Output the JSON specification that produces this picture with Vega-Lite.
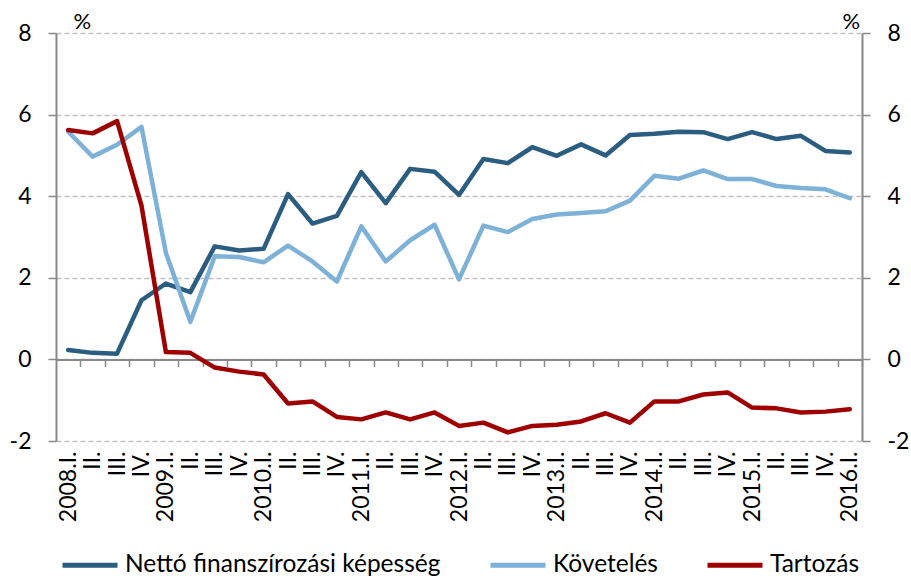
{
  "$schema": "https://vega.github.io/schema/vega-lite/v6.json",
  "width": 806,
  "height": 408,
  "autosize": "none",
  "padding": {"left": 56, "top": 33, "right": 49, "bottom": 137},
  "background": "white",
  "config": {"font": "Lato", "view": {"stroke": null}},
  "data": {"values": [
    {"q": "2008.I.", "s": "Nettó finanszírozási képesség", "v": 0.23},
    {"q": "2008.II.", "s": "Nettó finanszírozási képesség", "v": 0.16},
    {"q": "2008.III.", "s": "Nettó finanszírozási képesség", "v": 0.14},
    {"q": "2008.IV.", "s": "Nettó finanszírozási képesség", "v": 1.45},
    {"q": "2009.I.", "s": "Nettó finanszírozási képesség", "v": 1.86},
    {"q": "2009.II.", "s": "Nettó finanszírozási képesség", "v": 1.65},
    {"q": "2009.III.", "s": "Nettó finanszírozási képesség", "v": 2.77},
    {"q": "2009.IV.", "s": "Nettó finanszírozási képesség", "v": 2.67},
    {"q": "2010.I.", "s": "Nettó finanszírozási képesség", "v": 2.71},
    {"q": "2010.II.", "s": "Nettó finanszírozási képesség", "v": 4.05},
    {"q": "2010.III.", "s": "Nettó finanszírozási képesség", "v": 3.33},
    {"q": "2010.IV.", "s": "Nettó finanszírozási képesség", "v": 3.52},
    {"q": "2011.I.", "s": "Nettó finanszírozási képesség", "v": 4.59},
    {"q": "2011.II.", "s": "Nettó finanszírozási képesség", "v": 3.83},
    {"q": "2011.III.", "s": "Nettó finanszírozási képesség", "v": 4.67},
    {"q": "2011.IV.", "s": "Nettó finanszírozási képesség", "v": 4.60},
    {"q": "2012.I.", "s": "Nettó finanszírozási képesség", "v": 4.03},
    {"q": "2012.II.", "s": "Nettó finanszírozási képesség", "v": 4.91},
    {"q": "2012.III.", "s": "Nettó finanszírozási képesség", "v": 4.81},
    {"q": "2012.IV.", "s": "Nettó finanszírozási képesség", "v": 5.20},
    {"q": "2013.I.", "s": "Nettó finanszírozási képesség", "v": 4.99},
    {"q": "2013.II.", "s": "Nettó finanszírozási képesség", "v": 5.27},
    {"q": "2013.III.", "s": "Nettó finanszírozási képesség", "v": 5.00},
    {"q": "2013.IV.", "s": "Nettó finanszírozási képesség", "v": 5.50},
    {"q": "2014.I.", "s": "Nettó finanszírozási képesség", "v": 5.53},
    {"q": "2014.II.", "s": "Nettó finanszírozási képesség", "v": 5.58},
    {"q": "2014.III.", "s": "Nettó finanszírozási képesség", "v": 5.57},
    {"q": "2014.IV.", "s": "Nettó finanszírozási képesség", "v": 5.40},
    {"q": "2015.I.", "s": "Nettó finanszírozási képesség", "v": 5.57},
    {"q": "2015.II.", "s": "Nettó finanszírozási képesség", "v": 5.40},
    {"q": "2015.III.", "s": "Nettó finanszírozási képesség", "v": 5.48},
    {"q": "2015.IV.", "s": "Nettó finanszírozási képesség", "v": 5.11},
    {"q": "2016.I.", "s": "Nettó finanszírozási képesség", "v": 5.07},
    {"q": "2008.I.", "s": "Követelés", "v": 5.58},
    {"q": "2008.II.", "s": "Követelés", "v": 4.97},
    {"q": "2008.III.", "s": "Követelés", "v": 5.26},
    {"q": "2008.IV.", "s": "Követelés", "v": 5.70},
    {"q": "2009.I.", "s": "Követelés", "v": 2.61},
    {"q": "2009.II.", "s": "Követelés", "v": 0.92},
    {"q": "2009.III.", "s": "Követelés", "v": 2.53},
    {"q": "2009.IV.", "s": "Követelés", "v": 2.51},
    {"q": "2010.I.", "s": "Követelés", "v": 2.38},
    {"q": "2010.II.", "s": "Követelés", "v": 2.79},
    {"q": "2010.III.", "s": "Követelés", "v": 2.40},
    {"q": "2010.IV.", "s": "Követelés", "v": 1.91},
    {"q": "2011.I.", "s": "Követelés", "v": 3.26},
    {"q": "2011.II.", "s": "Követelés", "v": 2.40},
    {"q": "2011.III.", "s": "Követelés", "v": 2.92},
    {"q": "2011.IV.", "s": "Követelés", "v": 3.30},
    {"q": "2012.I.", "s": "Követelés", "v": 1.96},
    {"q": "2012.II.", "s": "Követelés", "v": 3.28},
    {"q": "2012.III.", "s": "Követelés", "v": 3.12},
    {"q": "2012.IV.", "s": "Követelés", "v": 3.44},
    {"q": "2013.I.", "s": "Követelés", "v": 3.55},
    {"q": "2013.II.", "s": "Követelés", "v": 3.59},
    {"q": "2013.III.", "s": "Követelés", "v": 3.63},
    {"q": "2013.IV.", "s": "Követelés", "v": 3.89},
    {"q": "2014.I.", "s": "Követelés", "v": 4.50},
    {"q": "2014.II.", "s": "Követelés", "v": 4.43},
    {"q": "2014.III.", "s": "Követelés", "v": 4.63},
    {"q": "2014.IV.", "s": "Követelés", "v": 4.42},
    {"q": "2015.I.", "s": "Követelés", "v": 4.42},
    {"q": "2015.II.", "s": "Követelés", "v": 4.25},
    {"q": "2015.III.", "s": "Követelés", "v": 4.20},
    {"q": "2015.IV.", "s": "Követelés", "v": 4.17},
    {"q": "2016.I.", "s": "Követelés", "v": 3.95},
    {"q": "2008.I.", "s": "Tartozás", "v": 5.62},
    {"q": "2008.II.", "s": "Tartozás", "v": 5.54},
    {"q": "2008.III.", "s": "Tartozás", "v": 5.84},
    {"q": "2008.IV.", "s": "Tartozás", "v": 3.77},
    {"q": "2009.I.", "s": "Tartozás", "v": 0.18},
    {"q": "2009.II.", "s": "Tartozás", "v": 0.16},
    {"q": "2009.III.", "s": "Tartozás", "v": -0.20},
    {"q": "2009.IV.", "s": "Tartozás", "v": -0.30},
    {"q": "2010.I.", "s": "Tartozás", "v": -0.37},
    {"q": "2010.II.", "s": "Tartozás", "v": -1.08},
    {"q": "2010.III.", "s": "Tartozás", "v": -1.03},
    {"q": "2010.IV.", "s": "Tartozás", "v": -1.41},
    {"q": "2011.I.", "s": "Tartozás", "v": -1.47},
    {"q": "2011.II.", "s": "Tartozás", "v": -1.30},
    {"q": "2011.III.", "s": "Tartozás", "v": -1.47},
    {"q": "2011.IV.", "s": "Tartozás", "v": -1.30},
    {"q": "2012.I.", "s": "Tartozás", "v": -1.63},
    {"q": "2012.II.", "s": "Tartozás", "v": -1.55},
    {"q": "2012.III.", "s": "Tartozás", "v": -1.79},
    {"q": "2012.IV.", "s": "Tartozás", "v": -1.63},
    {"q": "2013.I.", "s": "Tartozás", "v": -1.60},
    {"q": "2013.II.", "s": "Tartozás", "v": -1.52},
    {"q": "2013.III.", "s": "Tartozás", "v": -1.32},
    {"q": "2013.IV.", "s": "Tartozás", "v": -1.55},
    {"q": "2014.I.", "s": "Tartozás", "v": -1.03},
    {"q": "2014.II.", "s": "Tartozás", "v": -1.03},
    {"q": "2014.III.", "s": "Tartozás", "v": -0.86},
    {"q": "2014.IV.", "s": "Tartozás", "v": -0.81},
    {"q": "2015.I.", "s": "Tartozás", "v": -1.18},
    {"q": "2015.II.", "s": "Tartozás", "v": -1.20},
    {"q": "2015.III.", "s": "Tartozás", "v": -1.30},
    {"q": "2015.IV.", "s": "Tartozás", "v": -1.28},
    {"q": "2016.I.", "s": "Tartozás", "v": -1.22}
  ]},
  "layer": [
    {
      "mark": {"type": "line", "strokeOpacity": 0},
      "encoding": {
        "x": {"field": "q", "type": "ordinal", "sort": null,
          "scale": {"type": "point", "padding": 0.5},
          "axis": {"orient": "bottom", "offset": -81.6, "labels": false, "ticks": true,
            "tickOffset": 12.21, "tickSize": 7, "tickColor": "#888888", "tickWidth": 1.5,
            "domain": true, "domainColor": "#888888", "domainWidth": 2, "grid": false, "title": null}},
        "y": {"field": "v", "type": "quantitative",
          "scale": {"domain": [-2, 8], "nice": false, "zero": false},
          "axis": {"orient": "right", "values": [-2, 0, 2, 4, 6, 8], "grid": false,
            "title": "%", "titleAngle": 0, "titleX": -20, "titleY": -12, "titleAlign": "left",
            "titleBaseline": "middle", "titleFontSize": 22, "titleFontWeight": "normal", "titleColor": "#000000",
            "domainColor": "#888888", "domainWidth": 2, "tickColor": "#888888", "tickSize": 8, "tickWidth": 1.5,
            "labelFontSize": 23, "labelPadding": 17, "labelColor": "#000000",
            "labelExpr": "datum.value < 0 ? '-' + abs(datum.value) : datum.label"}},
        "detail": {"field": "s"}
      }
    },
    {
      "mark": {"type": "line", "strokeWidth": 4.5, "strokeCap": "round", "strokeJoin": "round"},
      "encoding": {
        "x": {"field": "q", "type": "ordinal", "sort": null,
          "scale": {"type": "point", "padding": 0.5},
          "axis": {"orient": "bottom", "title": null, "labelAngle": -90, "labelFontSize": 23,
            "labelColor": "#000000", "ticks": false, "domain": false, "grid": false, "labelPadding": 10,
            "labelExpr": "slice(datum.label, 5) == 'I.' ? datum.label : slice(datum.label, 5)"}},
        "y": {"field": "v", "type": "quantitative",
          "scale": {"domain": [-2, 8], "nice": false, "zero": false},
          "axis": {"orient": "left", "values": [-2, 0, 2, 4, 6, 8], "grid": true,
            "gridDash": [5, 3], "gridColor": "#c0c0c0", "gridWidth": 1.5,
            "title": "%", "titleAngle": 0, "titleX": 17, "titleY": -12, "titleAlign": "left",
            "titleBaseline": "middle", "titleFontSize": 22, "titleFontWeight": "normal", "titleColor": "#000000",
            "domainColor": "#888888", "domainWidth": 2, "tickColor": "#888888", "tickSize": 8, "tickWidth": 1.5,
            "labelFontSize": 23, "labelPadding": 17, "labelColor": "#000000",
            "labelExpr": "datum.value < 0 ? '-' + abs(datum.value) : datum.label"}},
        "color": {"field": "s", "type": "nominal",
          "scale": {"domain": ["Nettó finanszírozási képesség", "Követelés", "Tartozás"],
            "range": ["#2A5D80", "#7DB1D7", "#9E0000"]},
          "legend": {"orient": "none", "legendX": 4, "legendY": 502, "direction": "horizontal",
            "title": null, "symbolType": "stroke", "symbolSize": 3025, "symbolStrokeWidth": 5,
            "labelFontSize": 24.5, "labelColor": "#000000", "labelOffset": 5, "columnPadding": 39,
            "labelLimit": 600}}
      }
    }
  ],
  "resolve": {"axis": {"x": "independent", "y": "independent"}}
}
